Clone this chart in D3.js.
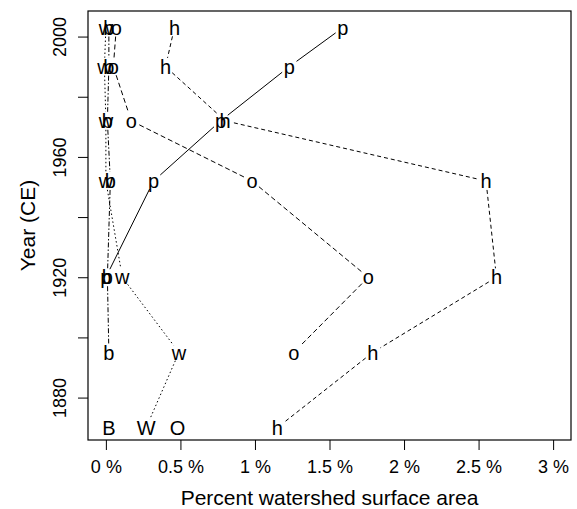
<!DOCTYPE html>
<html>
<head>
<meta charset="utf-8">
<script src="https://cdn.jsdelivr.net/npm/d3@7"></script>
<style>
  body { margin: 0; background: #fff; }
  svg { display: block; font-family: "Liberation Sans", Arial, sans-serif; }
</style>
</head>
<body>
<svg id="chart" width="577" height="509"></svg>
<script>
// data
const years = [2003, 1990, 1972, 1952, 1920, 1895, 1870];
const pValues = [1.59, 1.23, 0.77, 0.32, 0.00, null, null];
const hValues = [0.46, 0.40, 0.80, 2.55, 2.62, 1.79, 1.15];
const oValues = [0.07, 0.05, 0.17, 0.98, 1.76, 1.26, 0.48];
const wValues = [0.00, -0.01, 0.00, 0.00, 0.11, 0.49, 0.27];
const bValues = [0.02, 0.02, 0.01, 0.03, 0.01, 0.02, 0.02];

const seriesKeys = ['p', 'h', 'o', 'w', 'b'];
const seriesValues = [pValues, hValues, oValues, wValues, bValues];
const lastLabels = ['p', 'h', 'O', 'W', 'B'];      // 1870 symbol
const lastJoined = [true, true, false, true, false]; // line reaches 1870 point
const seriesDash = [null, '4,3', '5,3', '1.5,2.5', '5,2,1.5,2'];

const xTicks = [0, 0.5, 1, 1.5, 2, 2.5, 3];
const yTicks = [1880, 1900, 1920, 1940, 1960, 1980, 2000];
const yTickLabels = [1880, 1920, 1960, 2000];

const svg = d3.select('#chart');
const plotLeft = 88, plotRight = 571, plotTop = 11, plotBottom = 440;

const x = d3.scaleLinear().domain([-0.12, 3.12]).range([plotLeft, plotRight]);
const y = d3.scaleLinear().domain([1865.9, 2008.5]).range([plotBottom, plotTop]);

// frame
svg.append('rect')
    .attr('x', plotLeft).attr('y', plotTop)
    .attr('width', plotRight - plotLeft).attr('height', plotBottom - plotTop)
    .attr('fill', 'none').attr('stroke', '#000').attr('stroke-width', 1.2);

// axes
const xAxis = svg.append('g')
    .attr('transform', `translate(0, ${plotBottom})`)
    .call(d3.axisBottom(x).tickValues(xTicks).tickSize(10).tickPadding(10)
        .tickFormat(d => d + ' %'));
xAxis.select('.domain').remove();
xAxis.selectAll('text').attr('font-size', 18).attr('fill', '#000')
    .attr('font-family', '"Liberation Sans", Arial, sans-serif');

const yAxis = svg.append('g')
    .attr('transform', `translate(${plotLeft}, 0)`)
    .call(d3.axisLeft(y).tickValues(yTicks).tickSize(10)
        .tickFormat(d => yTickLabels.includes(d) ? d : ''));
yAxis.select('.domain').remove();
yAxis.selectAll('.tick text')
    .attr('font-size', 18).attr('fill', '#000')
    .attr('font-family', '"Liberation Sans", Arial, sans-serif')
    .attr('text-anchor', 'middle')
    .attr('x', 0).attr('y', 0).attr('dy', 0)
    .attr('transform', 'translate(-22, 0) rotate(-90)');

// axis titles
svg.append('text')
    .attr('x', (plotLeft + plotRight) / 2).attr('y', 505)
    .attr('text-anchor', 'middle')
    .attr('font-size', 21)
    .text('Percent watershed surface area');

svg.append('text')
    .attr('transform', `translate(35, ${(plotTop + plotBottom) / 2}) rotate(-90)`)
    .attr('text-anchor', 'middle')
    .attr('font-size', 21)
    .text('Year (CE)');

// series: letters joined by lines with gaps (like type = "b")
const gap = 9;
seriesKeys.forEach((key, si) => {
    const vals = seriesValues[si];
    const pts = [];
    vals.forEach((v, i) => {
        if (v === null) return;
        const isLast = i === years.length - 1;
        pts.push({
            px: x(v), py: y(years[i]),
            label: isLast ? lastLabels[si] : key,
            joined: !isLast || lastJoined[si]
        });
    });

    const segs = [];
    for (let i = 0; i < pts.length - 1; i++) {
        const a = pts[i], b = pts[i + 1];
        if (!a.joined || !b.joined) continue;
        const dx = b.px - a.px, dy = b.py - a.py;
        const len = Math.hypot(dx, dy);
        if (len <= 2 * gap) continue;
        const ux = dx / len, uy = dy / len;
        segs.push([a.px + ux * gap, a.py + uy * gap, b.px - ux * gap, b.py - uy * gap]);
    }

    svg.append('g').selectAll('line').data(segs).enter()
        .append('line')
        .attr('x1', d => d[0]).attr('y1', d => d[1])
        .attr('x2', d => d[2]).attr('y2', d => d[3])
        .attr('stroke', '#000')
        .attr('stroke-width', 1)
        .attr('stroke-dasharray', seriesDash[si]);

    svg.append('g').selectAll('text').data(pts).enter()
        .append('text')
        .attr('x', d => d.px)
        .attr('y', d => d.py)
        .attr('dy', '0.36em')
        .attr('text-anchor', 'middle')
        .attr('font-size', 20)
        .text(d => d.label);
});
</script>
</body>
</html>
